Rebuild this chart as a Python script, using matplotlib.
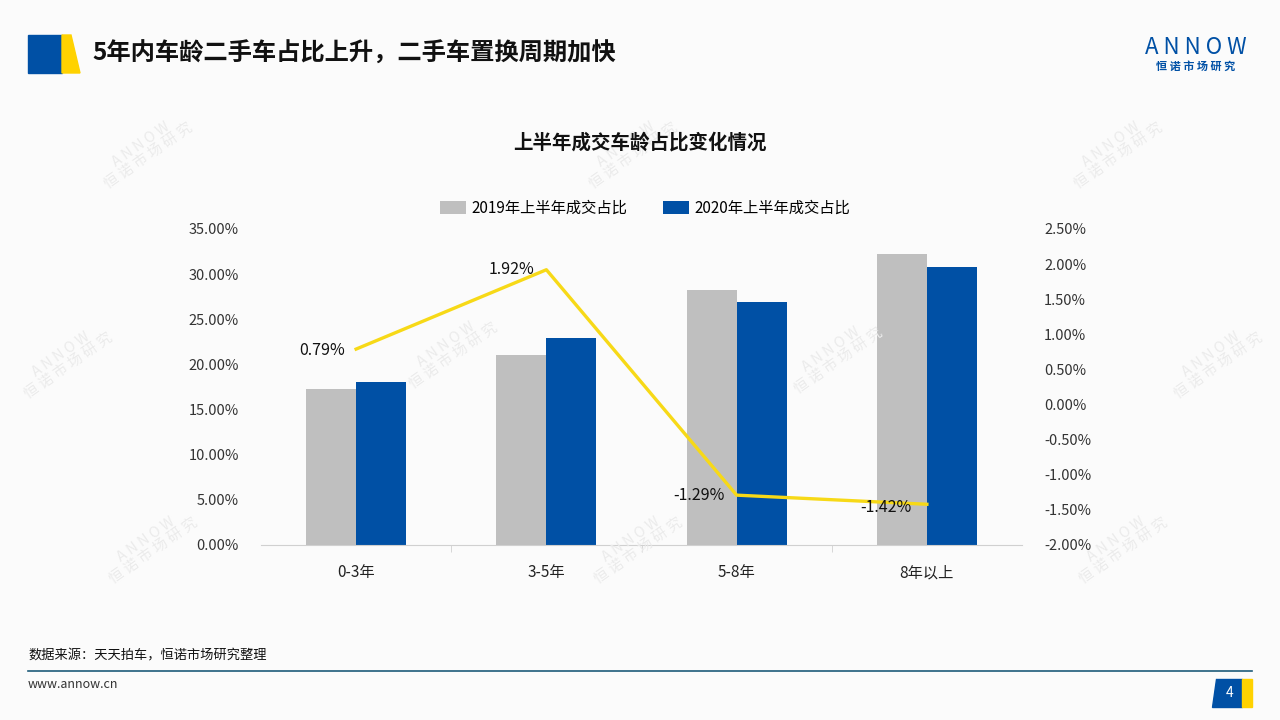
import numpy as np
import matplotlib.pyplot as plt
from matplotlib.patches import Polygon, Rectangle
from matplotlib.ticker import FuncFormatter

plt.rcParams['font.family'] = ['Noto Sans CJK SC', 'DejaVu Sans']

# 数据
categories = ['0-3年', '3-5年', '5-8年', '8年以上']
share_2019 = [17.3, 21.0, 28.2, 32.2]
share_2020 = [18.0, 22.9, 26.9, 30.8]
change = [0.79, 1.92, -1.29, -1.42]
label_2019 = '2019年上半年成交占比'
label_2020 = '2020年上半年成交占比'

blue = '#0050A5'
gray = '#BFBFBF'
yellow = '#F7D917'
bg = '#FBFBFB'

fig = plt.figure(figsize=(12.8, 7.2), dpi=100, facecolor=bg)

# 水印
wm_pos = [(145, 150), (630, 150), (1115, 150), (65, 360), (450, 350), (835, 355),
          (1215, 360), (150, 545), (635, 545), (1120, 545)]
for (px, py) in wm_pos:
    fig.text(px / 1280, 1 - py / 720, 'A N N O W\n恒 诺 市 场 研 究', rotation=35, ha='center',
             va='center', fontsize=10.5, color='#EBEBEB', linespacing=1.0, zorder=0)

# 页眉
fig.patches.append(Rectangle((28 / 1280, 1 - 73 / 720), 34 / 1280, 38 / 720,
                             transform=fig.transFigure, color=blue))
fig.patches.append(Polygon([(62 / 1280, 1 - 35 / 720), (71 / 1280, 1 - 35 / 720),
                            (80 / 1280, 1 - 73 / 720), (62 / 1280, 1 - 73 / 720)],
                           closed=True, transform=fig.transFigure, color='#FFD200'))
fig.text(92 / 1280, 1 - 54 / 720, '5年内车龄二手车占比上升，二手车置换周期加快', fontsize=17.5,
         fontweight='bold', va='center', ha='left', color='#111111')
fig.text(1196 / 1280, 1 - 48 / 720, 'A N N O W', fontsize=16, color=blue, ha='center', va='center')
fig.text(1196 / 1280, 1 - 66 / 720, '恒 诺 市 场 研 究', fontsize=8, color=blue, ha='center',
         va='center', fontweight='bold')

# 页脚
fig.text(28 / 1280, 1 - 656 / 720, '数据来源：天天拍车，恒诺市场研究整理', fontsize=9.5, va='center',
         color='#111111')
fig.lines.append(plt.Line2D([28 / 1280, 1252 / 1280], [1 - 671 / 720, 1 - 671 / 720],
                            transform=fig.transFigure, color='#1F5C7A', lw=1.2))
fig.text(28 / 1280, 1 - 684 / 720, 'www.annow.cn', fontsize=9, va='center', color='#333333')
fig.patches.append(Polygon([(1216 / 1280, 1 - 679 / 720), (1242 / 1280, 1 - 679 / 720),
                            (1242 / 1280, 1 - 707 / 720), (1212 / 1280, 1 - 707 / 720)],
                           closed=True, transform=fig.transFigure, color=blue))
fig.patches.append(Rectangle((1242 / 1280, 1 - 707 / 720), 10 / 1280, 28 / 720,
                             transform=fig.transFigure, color='#FFD200'))
fig.text(1230 / 1280, 1 - 693 / 720, '4', fontsize=10, color='white', ha='center', va='center')

# 图表
ax = fig.add_axes([261 / 1280, 1 - 545 / 720, 761 / 1280, 316 / 720])
ax.set_facecolor('none')
x = np.arange(len(categories))
w = 0.263
ax.bar(x - w / 2, share_2019, w, color=gray, label=label_2019, zorder=2)
ax.bar(x + w / 2, share_2020, w, color=blue, label=label_2020, zorder=2)
ax.set_xlim(-0.5, len(categories) - 0.5)
ax.set_ylim(0, 35)
ax.set_yticks(np.arange(0, 36, 5))
ax.yaxis.set_major_formatter(FuncFormatter(lambda v, p: f'{v:.2f}%'))
ax.set_xticks(x)
ax.set_xticklabels(categories)
ax.set_xticks(np.arange(0.5, len(categories) - 0.5, 1), minor=True)
ax.tick_params(axis='x', which='major', length=0, pad=14, labelsize=11, labelcolor='#222222')
ax.tick_params(axis='x', which='minor', length=5, color='#D0D0D0', direction='out')
ax.tick_params(axis='y', length=0, labelsize=10.5, labelcolor='#333333', pad=16)
for s in ['top', 'right', 'left']:
    ax.spines[s].set_visible(False)
ax.spines['bottom'].set_color('#D0D0D0')

ax2 = ax.twinx()
ax2.plot(x, change, color=yellow, lw=2.4, zorder=3)
ax2.set_ylim(-2.0, 2.5)
ax2.set_yticks(np.arange(-2.0, 2.51, 0.5))
ax2.yaxis.set_major_formatter(FuncFormatter(lambda v, p: f'{v:.2f}%'))
ax2.tick_params(axis='y', length=0, labelsize=10.5, labelcolor='#333333', pad=16)
for s in ['top', 'right', 'left', 'bottom']:
    ax2.spines[s].set_visible(False)

offsets = [(-8, -1), (-9, 0), (-9, 0), (-11, -2)]
for i, v in enumerate(change):
    ax2.annotate(f'{v:.2f}%', (x[i], v), xytext=offsets[i], textcoords='offset points',
                 ha='right', va='center', fontsize=11.5, color='#111111', zorder=4)

fig.text(640 / 1280, 1 - 143 / 720, '上半年成交车龄占比变化情况', fontsize=14, fontweight='bold',
         ha='center', va='center', color='#111111')
ax.legend(loc='center', bbox_to_anchor=(645 / 1280, 1 - 208 / 720), bbox_transform=fig.transFigure,
          ncol=2, frameon=False, fontsize=11, handlelength=1.7, handleheight=0.9,
          columnspacing=2.3, handletextpad=0.4)

fig.savefig('out.png', dpi=100, facecolor=bg)
